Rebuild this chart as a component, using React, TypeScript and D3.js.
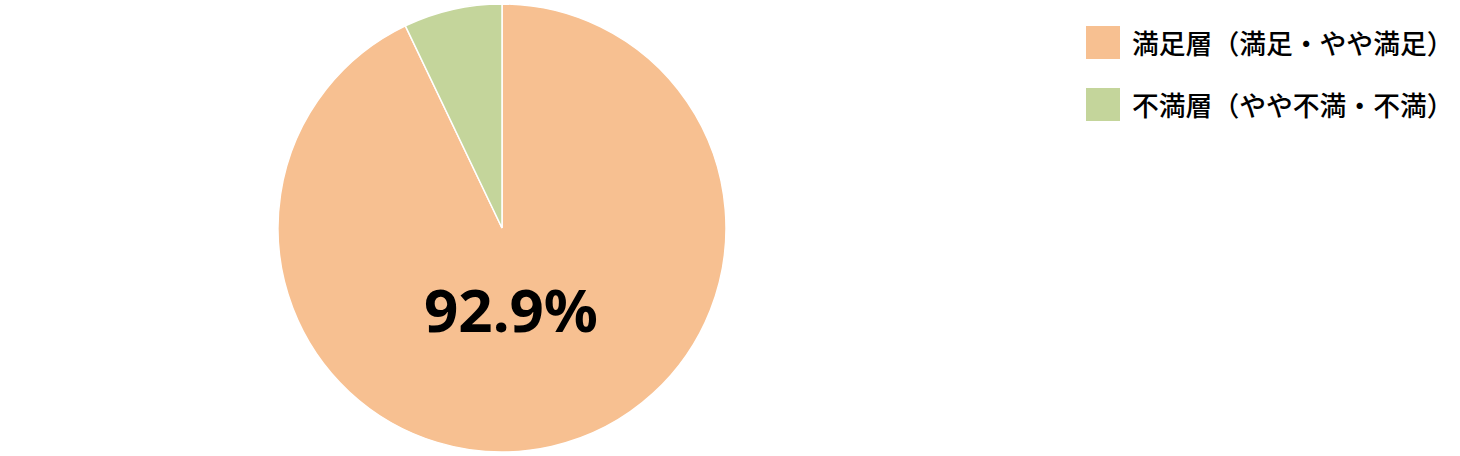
import { useEffect, useRef } from "react";
import * as d3 from "d3";

const categories = ["満足層（満足・やや満足）", "不満層（やや不満・不満）"];
const values = [92.9, 7.1];
const colors = ["#F7C091", "#C4D59B"];
const centerLabel = "92.9%";

export default function App() {
  const ref = useRef<SVGSVGElement>(null);

  useEffect(() => {
    if (!ref.current) return;
    const width = 1460;
    const height = 456;
    const cx = 502;
    const cy = 228;
    const radius = 224;

    const svg = d3.select(ref.current);
    svg.selectAll("*").remove();
    svg.attr("width", width).attr("height", height);

    const data = categories.map((c, i) => ({ name: c, value: values[i], color: colors[i] }));

    const pie = d3
      .pie<{ name: string; value: number; color: string }>()
      .sort(null)
      .value((d) => d.value);
    const arc = d3
      .arc<d3.PieArcDatum<{ name: string; value: number; color: string }>>()
      .innerRadius(0)
      .outerRadius(radius);

    const g = svg.append("g").attr("transform", `translate(${cx},${cy})`);
    g.selectAll("path")
      .data(pie(data))
      .join("path")
      .attr("d", arc)
      .attr("fill", (d) => d.data.color)
      .attr("stroke", "#ffffff")
      .attr("stroke-width", 1.5);

    g.append("text")
      .attr("x", 9)
      .attr("y", 104)
      .attr("text-anchor", "middle")
      .style("font-family", "'Noto Sans', sans-serif")
      .style("font-weight", "700")
      .style("font-size", "60px")
      .attr("fill", "#000000")
      .text(centerLabel);

    // legend
    const legend = svg.append("g").attr("transform", "translate(1086,26)");
    const items = legend
      .selectAll("g")
      .data(data)
      .join("g")
      .attr("transform", (_, i) => `translate(0,${i * 62})`);
    items
      .append("rect")
      .attr("width", 34)
      .attr("height", 33)
      .attr("fill", (d) => d.color);
    items
      .append("text")
      .attr("x", 46)
      .attr("y", 28)
      .style("font-family", "'Noto Sans CJK JP', sans-serif")
      .style("font-size", "26.8px")
      .style("font-weight", "500")
      .attr("fill", "#000000")
      .text((d) => d.name);
  }, []);

  return (
    <div style={{ position: "absolute", left: 0, top: 0 }}>
      <svg ref={ref} style={{ display: "block" }} />
    </div>
  );
}
